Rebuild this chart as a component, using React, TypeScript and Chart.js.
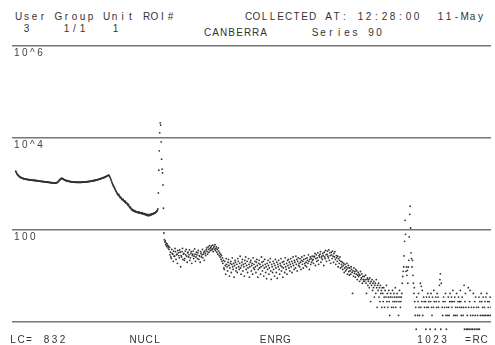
import React, { useEffect, useRef } from "react";
import { Chart, registerables } from "chart.js";

Chart.register(...registerables);

// ---- Data: counts per channel (display units) ----
// channels 0..304 : low-energy continuum
const lowEnergyCounts = [
  1905, 1810, 1720, 1650, 1600, 1560, 1520, 1490, 1450, 1430,
  1400, 1390, 1370, 1350, 1340, 1330, 1320, 1310, 1300, 1290,
  1285, 1290, 1270, 1265, 1275, 1260, 1250, 1255, 1240, 1245,
  1235, 1230, 1240, 1225, 1215, 1220, 1210, 1215, 1205, 1200,
  1210, 1195, 1190, 1200, 1185, 1180, 1175, 1185, 1170, 1165,
  1160, 1170, 1155, 1150, 1145, 1150, 1140, 1135, 1145, 1130,
  1125, 1120, 1130, 1115, 1110, 1120, 1105, 1100, 1110, 1095,
  1090, 1100, 1085, 1080, 1090, 1075, 1070, 1080, 1065, 1070,
  1060, 1065, 1055, 1060, 1050, 1060, 1055, 1065, 1070, 1080,
  1095, 1120, 1150, 1180, 1210, 1240, 1270, 1300, 1320, 1335,
  1330, 1310, 1290, 1270, 1250, 1235, 1220, 1205, 1195, 1185,
  1180, 1170, 1165, 1160, 1150, 1145, 1140, 1135, 1130, 1125,
  1120, 1115, 1110, 1115, 1105, 1100, 1110, 1100, 1095, 1100,
  1090, 1095, 1100, 1090, 1085, 1095, 1090, 1100, 1085, 1095,
  1090, 1095, 1100, 1105, 1095, 1100, 1110, 1100, 1105, 1115,
  1110, 1120, 1115, 1125, 1130, 1125, 1135, 1140, 1135, 1145,
  1150, 1145, 1160, 1165, 1160, 1175, 1180, 1185, 1180, 1195,
  1200, 1210, 1205, 1220, 1230, 1235, 1245, 1255, 1260, 1270,
  1280, 1290, 1300, 1310, 1320, 1330, 1340, 1350, 1365, 1375,
  1390, 1400, 1420, 1435, 1450, 1470, 1490, 1510, 1530, 1550,
  1560, 1530, 1470, 1400, 1330, 1250, 1170, 1090, 1030, 970,
  920, 880, 850, 810, 770, 730, 700, 670, 640, 610,
  590, 570, 600, 550, 530, 510, 520, 490, 475, 465,
  455, 470, 440, 430, 420, 410, 425, 395, 385, 390,
  370, 355, 345, 360, 330, 320, 305, 315, 295, 285,
  275, 280, 268, 262, 270, 258, 255, 262, 250, 248,
  252, 245, 240, 248, 242, 236, 244, 238, 232, 240,
  235, 228, 238, 230, 225, 232, 222, 228, 218, 225,
  215, 220, 212, 208, 218, 210, 205, 214, 216, 208,
  220, 212, 224, 218, 226, 222, 230, 228, 236, 232,
  240, 238, 248, 252, 260,
];

// channels 305..319 : first peak
const firstPeakCounts = [
  270, 288, 642, 2002, 5265, 12970, 21400, 19080, 8265, 3475, 2104, 1748, 958, 298, 86.5,
];

// channels 320..331 : step down after the peak
const stepCounts = [62, 55, 58, 48, 52, 44, 50, 46, 41, 45, 38, 42];

// channels 332..419 : band
const bandACounts = [
  29, 33, 26, 24, 38, 31, 30, 21, 35, 27,
  27, 40, 34, 23, 29, 30, 19, 36, 32, 28,
  25, 37, 33, 16, 28, 26, 34, 40, 23, 30,
  31, 22, 24, 35, 29, 38, 27, 20, 32, 33,
  26, 29, 37, 22, 25, 31, 34, 19, 28, 30,
  35, 24, 27, 39, 30, 21, 26, 33, 29, 24,
  32, 36, 23, 28, 27, 20, 34, 31, 26, 29,
  38, 25, 30, 33, 22, 35, 31, 28, 37, 41,
  34, 30, 43, 38, 33, 46, 40, 36,
];

// channels 420..445 : small hump
const humpCounts = [
  42, 45, 37, 39, 47, 34, 41, 44, 38, 48,
  36, 40, 43, 33, 38, 30, 41, 35, 28, 32,
  26, 30, 23, 28, 21, 25,
];

// channels 446..639 : lower band
const bandBCounts = [
  19, 22, 15, 14, 21, 17, 11, 24, 18, 16,
  13, 20, 23, 17, 10, 15, 19, 21, 12, 18,
  25, 16, 14, 19, 9.5, 17, 22, 20, 13, 15,
  18, 12, 24, 21, 16, 14, 19, 27, 15, 11,
  17, 20, 23, 13, 18, 16, 10, 22, 19, 26,
  14, 17, 21, 12, 15, 24, 18, 9.5, 16, 20,
  22, 13, 17, 19, 11, 25, 15, 18, 14, 21,
  16, 12, 20, 23, 17, 9.5, 14, 19, 22, 15,
  18, 11, 16, 26, 20, 13, 17, 21, 10, 15,
  23, 18, 12, 16, 8.8, 19, 14, 22, 17, 11,
  15, 20, 24, 13, 8.5, 18, 16, 12, 21, 14,
  19, 10, 17, 23, 15, 12, 20, 9, 18, 16,
  22, 14, 11, 19, 17, 24, 13, 16, 20, 9.5,
  15, 21, 18, 12, 25, 16, 14, 19, 11, 22,
  17, 23, 15, 20, 13, 18, 24, 16, 21, 12,
  19, 26, 17, 14, 22, 20, 15, 27, 18, 23,
  13, 21, 25, 17, 19, 16, 24, 20, 14, 22,
  26, 18, 21, 15, 23, 28, 19, 17, 24, 20,
  16, 25, 22, 19, 29, 21, 14, 23, 26, 18,
  24, 20, 27, 22,
];

// channels 640..699 : second hump
const bandCCounts = [
  23, 19, 27, 26, 31, 17, 24, 29, 21, 25,
  32, 22, 18, 28, 26, 30, 34, 20, 25, 27,
  23, 31, 28, 17, 33, 26, 24, 36, 29, 21,
  30, 35, 27, 25, 37, 22, 32, 28, 19, 33,
  29, 24, 35, 27, 20, 31, 26, 34, 23, 18,
  28, 25, 21, 27, 16, 24, 19, 22, 26, 15,
];

// channels 700..749 : decline
const declineCounts = [
  21, 18, 16, 20, 14, 17, 19, 12, 15, 18,
  13, 16, 14, 19, 11, 15, 17, 12.6, 10.5, 15,
  13, 11, 16, 14, 12, 4.2, 13, 10, 15, 11.5,
  12.6, 9.5, 14, 11, 13, 8.4, 10.5, 12, 9.8, 11,
  7.7, 10.5, 12.6, 8.4, 9.1, 11.2, 7, 9.8, 8.4, 7.7,
];

// channels 750..789
const lowBandCounts = [
  9.8, 7.7, 8.4, 10.5, 7, 4.2, 8.4, 9.1, 6.3, 7.7,
  8.4, 5.6, 9.1, 7, 2.8, 7.7, 6.3, 8.4, 4.9, 7,
  5.6, 7.7, 3.5, 6.3, 7, 4.2, 8.4, 5.6, 2.1, 6.3,
  4.9, 7, 3.5, 5.6, 2.8, 6.3, 4.2, 4.9, 2.1, 5.6,
];

// channels 790..833
const preSecondPeakCounts = [
  4.2, 2.8, 5.6, 3.5, 2.1, 4.9, null, 3.5, 6.3, 2.8,
  4.2, 2.1, 3.5, 4.9, 2.8, 1.4, 3.5, 4.2, null, 2.1,
  3.5, 4.9, 2.8, 2.1, 4.2, 3.5, 2.8, 5.6, 2.1, 3.5,
  2.8, 4.2, null, 3.5, 1.4, 2.8, 4.9, 3.5, 2.1, 2.8,
  3.5, 4.2, 7, 9.8,
];

// channels 834..858 : second peak
const secondPeakCounts = [
  12.7, 15.8, 27.5, 57, 163, 81, 12.7, 15.8, 10.4, 13.3,
  7, 15.8, 22, 71, 220, 330, 111, 32, 24, 15.8,
  22, 10.4, 7, 4.2, 5.6,
];

// channels 859..1023 : high-energy tail (null = empty channel)
const tailCounts = [
  2.8, 1.4, 2.1, 0.7, 3.5, null, 1.4, 2.8, 4.2, 2.1,
  1.4, null, 7, 2.1, 6, 2.8, 4.9, 1.4, null, 3.5,
  2.8, 2.1, null, 2.8, 0.7, 3.5, 2.1, null, 4.2, 2.1,
  2.8, 3.5, null, 0.7, 2.8, 4.2, 2.1, 1.4, 3.5, null,
  2.1, 4.9, 2.8, null, 0.7, 3.5, 2.8, 2.1, 4.2, null,
  3.5, 2.1, 2.8, 6.3, 8.4, 11.2, 0.7, 7, null, 2.1,
  1.4, 2.8, 3.5, null, 2.1, 2.8, 4.2, 1.4, 0.7, 2.1,
  null, 1.4, 3.5, 2.1, 1.4, 2.8, 4.2, null, 2.8, 3.5,
  2.1, 2.8, 4.9, null, 1.4, 2.8, 3.5, 1.4, 2.1, null,
  4.2, 1.4, 2.1, 2.8, 3.5, null, 2.8, 2.1, 4.9, 2.8,
  1.4, 2.1, 3.5, null, 1.4, 2.1, 6.3, 0.7, 2.8, 4.2,
  2.1, 0.7, null, 1.4, 0.7, 5.6, 2.1, 0.7, 2.8, 4.9,
  1.4, 0.7, 2.1, null, 0.7, 1.4, 4.2, 2.1, 0.7, 2.8,
  1.4, 3.5, 0.7, 2.1, null, 1.4, 0.7, 2.1, 3.5, 0.7,
  2.8, 1.4, null, 4.2, 2.8, 1.4, 2.1, 3.5, null, 1.4,
  2.1, 2.8, 1.4, 3.5, null, 4.2, 1.4, 2.8, 2.1, 1.4,
  2.8, null, 3.5, 1.4, 2.1,
];

const yTickValues = [1, 100, 10000, 1000000];
const yTickLabels = ["", "100", "10^4", "10^6"];
const channelMin = -8;
const channelMax = 1023;

// ---- header / footer text ----
const headerTexts = [
  { x: 14.5, y: 17, text: "User Group Unit ROI#" },
  { x: 244.5, y: 17, text: "COLLECTED AT: 12:28:00  11-May" },
  { x: 22.5, y: 28.5, text: "3" },
  { x: 62.5, y: 28.5, text: "1/1" },
  { x: 111.5, y: 28.5, text: "1" },
  { x: 203.5, y: 32.7, text: "CANBERRA" },
  { x: 311, y: 32.7, text: "Series 90" },
];
const footerTexts = [
  { x: 9, y: 340, text: "LC=" },
  { x: 42.5, y: 340, text: "832" },
  { x: 129, y: 340, text: "NUCL" },
  { x: 259, y: 340, text: "ENRG" },
  { x: 416, y: 340, text: "1023" },
  { x: 464, y: 340, text: "=RC" },
];

function PitchText({ x, y, text }: { x: number; y: number; text: string }) {
  return (
    <div
      style={{
        position: "absolute",
        left: x,
        top: y - 6,
        height: 12,
        lineHeight: "12px",
        whiteSpace: "pre",
        fontFamily: '"Liberation Sans", Arial, sans-serif',
        fontSize: 10,
        color: "#333",
      }}
    >
      {Array.from(text).map((c, i) => (
        <span key={i} style={{ display: "inline-block", width: 8, textAlign: "center" }}>
          {c}
        </span>
      ))}
    </div>
  );
}

const spacingPlugin = {
  id: "letterSpacing",
  beforeDraw(chart: any) {
    (chart.ctx as any).letterSpacing = "2.5px";
  },
};

export default function App() {
  const canvasRef = useRef<HTMLCanvasElement | null>(null);

  useEffect(() => {
    if (!canvasRef.current) return;
    const spectrum: (number | null)[] = [
      ...lowEnergyCounts,
      ...firstPeakCounts,
      ...stepCounts,
      ...bandACounts,
      ...humpCounts,
      ...bandBCounts,
      ...bandCCounts,
      ...declineCounts,
      ...lowBandCounts,
      ...preSecondPeakCounts,
      ...secondPeakCounts,
      ...tailCounts,
    ];
    const points = spectrum
      .map((v, i) => (v == null ? null : { x: i, y: v }))
      .filter((p): p is { x: number; y: number } => p !== null);

    const chart = new Chart(canvasRef.current, {
      type: "scatter",
      data: {
        datasets: [
          {
            data: points,
            showLine: false,
            pointRadius: 0.9,
            pointBorderWidth: 0,
            pointBackgroundColor: "#333",
            pointBorderColor: "#333",
          },
        ],
      },
      plugins: [spacingPlugin],
      options: {
        animation: false,
        responsive: false,
        maintainAspectRatio: false,
        events: [],
        layout: { padding: { top: 10, bottom: 10, left: 0, right: 0 } },
        plugins: {
          legend: { display: false },
          tooltip: { enabled: false },
        },
        scales: {
          x: { type: "linear", min: channelMin, max: channelMax, display: false },
          y: {
            type: "logarithmic",
            min: 0.5,
            max: 1000000,
            afterBuildTicks: (scale: any) => {
              scale.ticks = yTickValues.map((v) => ({ value: v }));
            },
            afterFit: (scale: any) => {
              scale.width = 0;
            },
            border: { display: false },
            grid: { drawTicks: false, color: "#777", lineWidth: 1.6 },
            ticks: {
              mirror: true,
              padding: 2,
              labelOffset: 7,
              color: "#444",
              font: { family: "Liberation Sans", size: 10 },
              callback: (value: any) => {
                const idx = yTickValues.indexOf(Number(value));
                return idx >= 0 ? yTickLabels[idx] : "";
              },
            },
          },
        },
      } as any,
    });
    return () => chart.destroy();
  }, []);

  return (
    <div
      style={{
        position: "fixed",
        left: 0,
        top: 0,
        width: 495,
        height: 345,
        background: "#fff",
        overflow: "hidden",
      }}
    >
      {headerTexts.map((t, i) => (
        <PitchText key={"h" + i} {...t} />
      ))}
      <canvas
        ref={canvasRef}
        width={487}
        height={310}
        style={{ position: "absolute", left: 8, top: 36, width: 487, height: 310 }}
      />
      {footerTexts.map((t, i) => (
        <PitchText key={"f" + i} {...t} />
      ))}
    </div>
  );
}
